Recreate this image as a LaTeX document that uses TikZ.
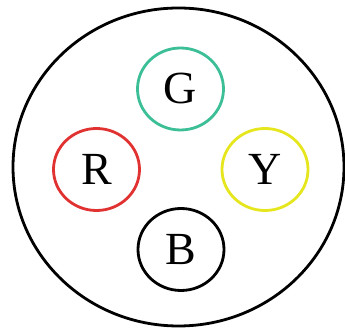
\documentclass[tikz,border=0pt]{standalone}
\usepackage{fontspec}
\setmainfont{Liberation Serif}
\usetikzlibrary{shapes.geometric}

\definecolor{ringgreen}{RGB}{60,190,150}
\definecolor{ringred}{RGB}{225,50,50}
\definecolor{ringyellow}{RGB}{230,230,30}

\tikzset{
  ring/.style={ellipse,draw,line width=2.8pt,inner sep=0pt,minimum width=86pt,minimum height=82pt,font=\fontsize{46}{46}\selectfont}
}

\begin{document}
\begin{tikzpicture}[x=1pt,y=1pt]
  \useasboundingbox (0,0) rectangle (345,328);
  \node[ellipse,draw,line width=2.8pt,minimum width=331pt,minimum height=318pt] (outer) at (178.5,161) {};
  \node[ring,draw=ringgreen] (G) at (180.5,239) {G};
  \node[ring,draw=ringred] (R) at (96.5,158.5) {R};
  \node[ring,draw=ringyellow] (Y) at (265,158.5) {Y};
  \node[ring,draw=black] (B) at (181,78.5) {B};
\end{tikzpicture}
\end{document}
